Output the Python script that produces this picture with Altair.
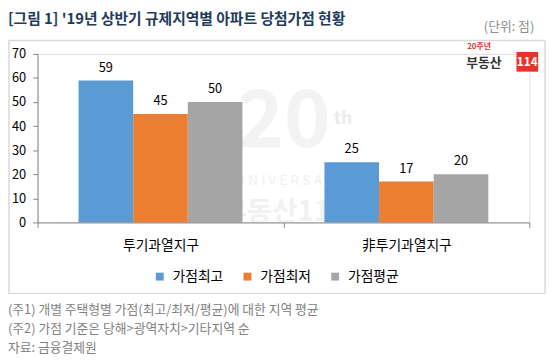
import altair as alt
import pandas as pd

# ---- data ----
regions = ["투기과열지구", "非투기과열지구"]
series = ["가점최고", "가점최저", "가점평균"]
values_high = [59, 25]
values_low = [45, 17]
values_avg = [50, 20]
colors = ["#5B9BD5", "#ED7D31", "#A5A5A5"]
y_ticks = [0, 10, 20, 30, 40, 50, 60, 70]

title_text = "[그림 1] '19년 상반기 규제지역별 아파트 당첨가점 현황"
unit_text = "(단위: 점)"
notes = [
    "(주1) 개별 주택형별 가점(최고/최저/평균)에 대한 지역 평균",
    "(주2) 가점 기준은 당해>광역자치>기타지역 순",
    "자료: 금융결제원",
]

rows = []
for i, r in enumerate(regions):
    for s, vals in zip(series, [values_high, values_low, values_avg]):
        rows.append({"region": r, "series": s, "value": vals[i]})
df = pd.DataFrame(rows)

KR = "Noto Sans CJK KR"
W, H = 499, 171

dummy = pd.DataFrame({"d": [0]})


def label(text, x, y, size, color, weight="normal", align="left", baseline="middle"):
    return alt.Chart(dummy).mark_text(
        text=text, fontSize=size, color=color, fontWeight=weight,
        align=align, baseline=baseline, font=KR
    ).encode(x=alt.value(x), y=alt.value(y))


# border box (transparent fill so axes stay visible)
box = alt.Chart(dummy).mark_rect(fill="transparent", stroke="#D9D9D9", strokeWidth=1.5).encode(
    x=alt.value(-29), x2=alt.value(515), y=alt.value(-13.5), y2=alt.value(243)
)

# faint watermark
wm = [
    label("20", 250, 70, 80, "#F3F3F3", weight="bold", align="center"),
    label("th", 310, 66, 18, "#EAEAEA", weight="bold", align="center"),
    label("A N N I V E R S A R Y", 250, 129, 14, "#EFEFEF", align="center"),
    label("부동산114", 250, 162, 28, "#F1F1F1", weight="bold", align="center"),
]

x_enc = alt.X(
    "region:N", sort=regions, title=None,
    scale=alt.Scale(paddingInner=0, paddingOuter=0),
    axis=alt.Axis(tickBand="extent", labelAngle=0, labelPadding=11, tickSize=5,
                  domainColor="#868686", tickColor="#868686", zindex=1,
                  labelFont=KR, labelFontSize=14, labelColor="#000000"),
)
xo_enc = alt.XOffset("series:N", sort=series,
                     scale=alt.Scale(paddingInner=0, paddingOuter=0.75))
y_enc = alt.Y(
    "value:Q", title=None, scale=alt.Scale(domain=[0, 70], nice=False),
    axis=alt.Axis(values=y_ticks, grid=False, tickSize=5, labelPadding=7,
                  labelOverlap=False, labelFlush=False,
                  domainColor="#868686", tickColor="#868686", zindex=1,
                  labelFont=KR, labelFontSize=13, labelColor="#000000"),
)

base = alt.Chart(df)
bars = base.mark_bar().encode(
    x=x_enc, xOffset=xo_enc, y=y_enc,
    color=alt.Color("series:N", sort=series,
                    scale=alt.Scale(domain=series, range=colors),
                    legend=alt.Legend(title=None, orient="none", legendX=117, legendY=219,
                                      direction="horizontal", symbolType="square",
                                      symbolSize=64, symbolStrokeWidth=0,
                                      labelFont=KR, labelFontSize=14, labelColor="#000000",
                                      columnPadding=17, labelOffset=6, padding=0)),
)
texts = base.mark_text(baseline="alphabetic", dy=-9, fontSize=13, font=KR, color="#000000").encode(
    x=x_enc, xOffset=xo_enc, y=y_enc, text="value:Q",
)

deco = [
    label(title_text, -30, -35, 15, "#1F3B5C", weight="bold"),
    label(unit_text, 504, -27, 13, "#8C8C8C", align="right"),
    label("20주년", 436, -7, 8, "#E8322B", weight="bold"),
    label("부동산", 435, 9, 13, "#333333", weight="bold"),
]
logo_box = alt.Chart(dummy).mark_rect(fill="#E8322B").encode(
    x=alt.value(486), x2=alt.value(508), y=alt.value(-2), y2=alt.value(18)
)
logo_txt = label("114", 497, 8.5, 12, "#FFFFFF", weight="bold", align="center")
foot = [label(t, -30, 260 + 19 * i, 13, "#808080") for i, t in enumerate(notes)]

chart = alt.layer(
    box, *wm, bars, texts, *deco, logo_box, logo_txt, *foot
).properties(
    width=W, height=H,
    autosize=alt.AutoSizeParams(type="none"),
    padding={"left": 30, "top": 44, "right": 20, "bottom": 135},
).configure_view(stroke=None).configure(background="white")

chart.save("out.html", embed_options={"renderer": "svg", "actions": False})
